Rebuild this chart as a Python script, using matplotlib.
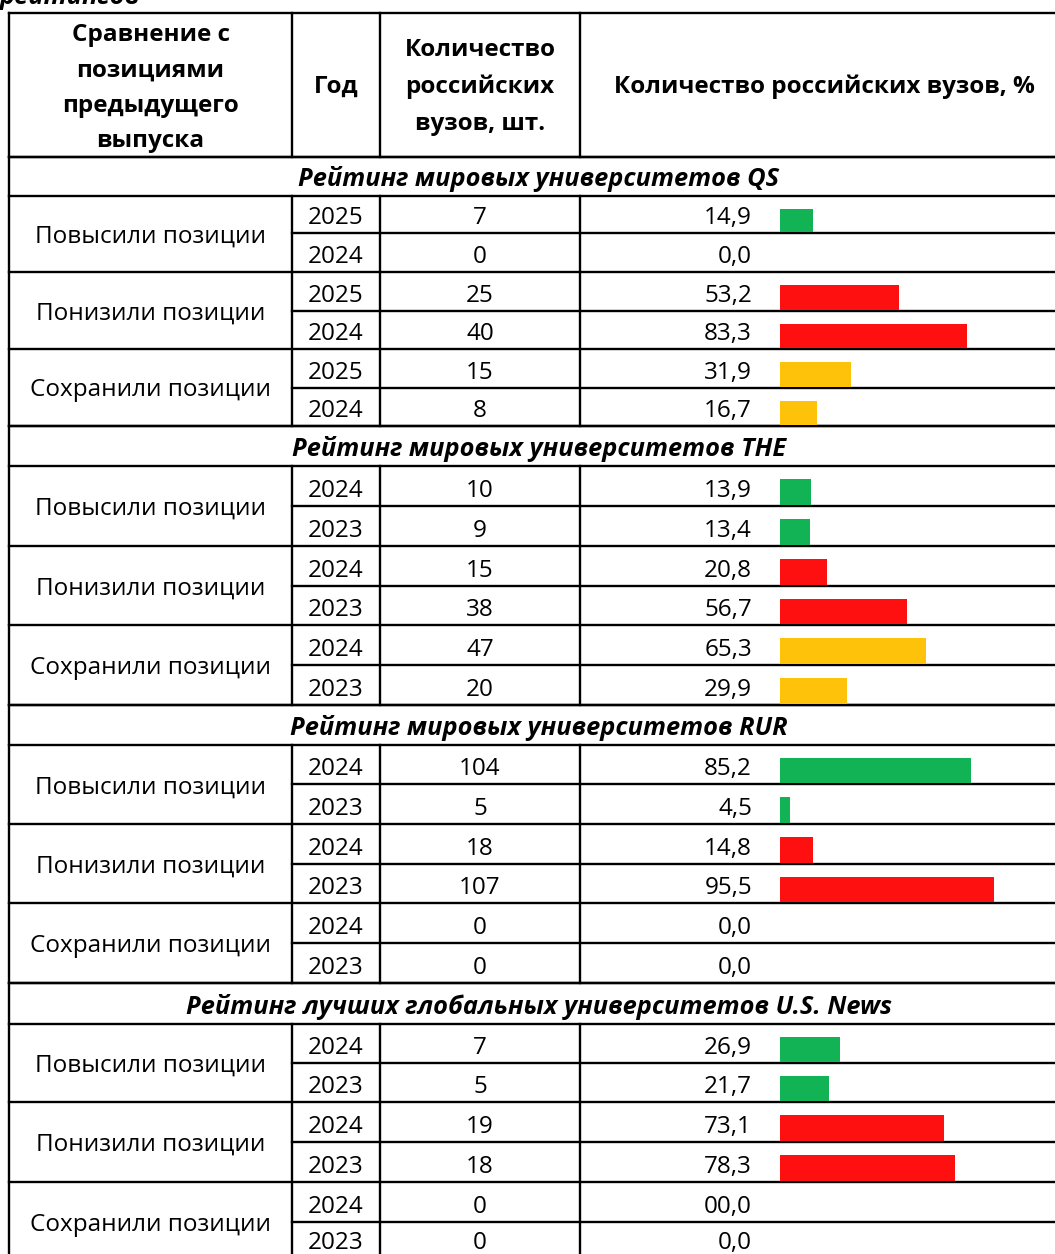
import matplotlib
matplotlib.use("Agg")
import matplotlib.pyplot as plt

# ---------------- data ----------------
sections = [
    "Рейтинг мировых университетов QS",
    "Рейтинг мировых университетов THE",
    "Рейтинг мировых университетов RUR",
    "Рейтинг лучших глобальных университетов U.S. News",
]
groups = ["Повысили позиции", "Понизили позиции", "Сохранили позиции"]
years = [
    ["2025", "2024", "2025", "2024", "2025", "2024"],
    ["2024", "2023", "2024", "2023", "2024", "2023"],
    ["2024", "2023", "2024", "2023", "2024", "2023"],
    ["2024", "2023", "2024", "2023", "2024", "2023"],
]
counts = [
    [7, 0, 25, 40, 15, 8],
    [10, 9, 15, 38, 47, 20],
    [104, 5, 18, 107, 0, 0],
    [7, 5, 19, 18, 0, 0],
]
pct_labels = [
    ["14,9", "0,0", "53,2", "83,3", "31,9", "16,7"],
    ["13,9", "13,4", "20,8", "56,7", "65,3", "29,9"],
    ["85,2", "4,5", "14,8", "95,5", "0,0", "0,0"],
    ["26,9", "21,7", "73,1", "78,3", "00,0", "0,0"],
]
group_colors = ["#12B354", "#FF1010", "#FFC20A"]

header_col1 = "Сравнение с\nпозициями\nпредыдущего\nвыпуска"
header_col2 = "Год"
header_col3 = "Количество\nроссийских\nвузов, шт."
header_col4 = "Количество российских вузов, %"
caption_cut = "рейтингов"

# ---------------- layout (pixels) ----------------
W, H = 1055, 1254
FONT = ["Open Sans", "Noto Sans", "DejaVu Sans"]
fs = 17.5
fs_title = 18.3
lw = 1.7
XL, X1, X2, X3, XR = 9, 292, 380, 580, 1069
section_bounds = [
    [157, 196, 233, 272, 311, 349, 388, 426],
    [426, 466, 506, 546, 586, 625, 665, 705],
    [705, 745, 784, 824, 864, 903, 943, 983],
    [983, 1024, 1063, 1102, 1142, 1182, 1222, 1262],
]
HEAD_TOP, HEAD_BOT = 13, 157
BAR_X0, BAR_X100 = 780, 1004

plt.rcParams["hatch.color"] = (1, 1, 1, 0.28)
plt.rcParams["hatch.linewidth"] = 0.5

fig = plt.figure(figsize=(W / 100, H / 100), dpi=100)
ax = fig.add_axes([0, 0, 1, 1])
ax.set_xlim(0, W)
ax.set_ylim(H, 0)
ax.axis("off")

bax = fig.add_axes([BAR_X0 / W, 0, (BAR_X100 - BAR_X0) / W, 1])
bax.set_xlim(0, 100)
bax.set_ylim(H, 0)
bax.axis("off")

def hline(y, x0=XL, x1=XR):
    ax.plot([x0, x1], [y, y], color="black", lw=lw, solid_capstyle="projecting")

def vline(x, y0, y1):
    ax.plot([x, x], [y0, y1], color="black", lw=lw, solid_capstyle="projecting")

# caption cut at top
ax.text(0, 4, caption_cut, ha="left", va="baseline", fontsize=fs_title, family=FONT,
        fontweight="bold", fontstyle="italic")

# header
hline(HEAD_TOP)
hline(HEAD_BOT)
vline(XL, HEAD_TOP, H + 10)
for x in (X1, X2, X3):
    vline(x, HEAD_TOP, HEAD_BOT)
ax.text((XL + X1) / 2, 88, header_col1, ha="center", va="center", fontsize=fs,
        family=FONT, fontweight="bold", linespacing=1.62)
ax.text((X1 + X2) / 2, 87, header_col2, ha="center", va="center", fontsize=fs,
        family=FONT, fontweight="bold")
ax.text((X2 + X3) / 2, 87, header_col3, ha="center", va="center", fontsize=fs,
        family=FONT, fontweight="bold", linespacing=1.68)
ax.text((X3 + XR) / 2, 87, header_col4, ha="center", va="center", fontsize=fs,
        family=FONT, fontweight="bold")

for s, title in enumerate(sections):
    b = section_bounds[s]
    hline(b[0])
    hline(b[1])
    ax.text((XL + XR) / 2, b[1] - 10, title, ha="center", va="baseline", fontsize=fs_title,
            family=FONT, fontweight="bold", fontstyle="italic")
    for x in (X1, X2, X3):
        vline(x, b[1], b[7])
    for r in range(6):
        top, bot = b[1 + r], b[2 + r]
        if r % 2 == 0 and r > 0:
            hline(top)
        elif r > 0:
            hline(top, X1, XR)
        base = min(bot - 9, H - 5)
        ax.text((X1 + X2) / 2, base, years[s][r], ha="center", va="baseline",
                fontsize=fs, family=FONT)
        ax.text((X2 + X3) / 2, base, str(counts[s][r]), ha="center", va="baseline",
                fontsize=fs, family=FONT)
        ax.text(752, base, pct_labels[s][r], ha="right", va="baseline",
                fontsize=fs, family=FONT)
        val = float(pct_labels[s][r].replace(",", "."))
        if val > 0:
            bax.barh(bot - 1, val, height=-(bot - top - 14), left=0, align="edge",
                     color=group_colors[r // 2], edgecolor="none", hatch="|||||")
    for g in range(3):
        ymid = (b[1 + 2 * g] + b[3 + 2 * g]) / 2
        ax.text((XL + X1) / 2, ymid + 9, groups[g], ha="center", va="baseline",
                fontsize=fs, family=FONT)
    if s < 3:
        hline(b[7])

fig.savefig("out.png", dpi=100)
